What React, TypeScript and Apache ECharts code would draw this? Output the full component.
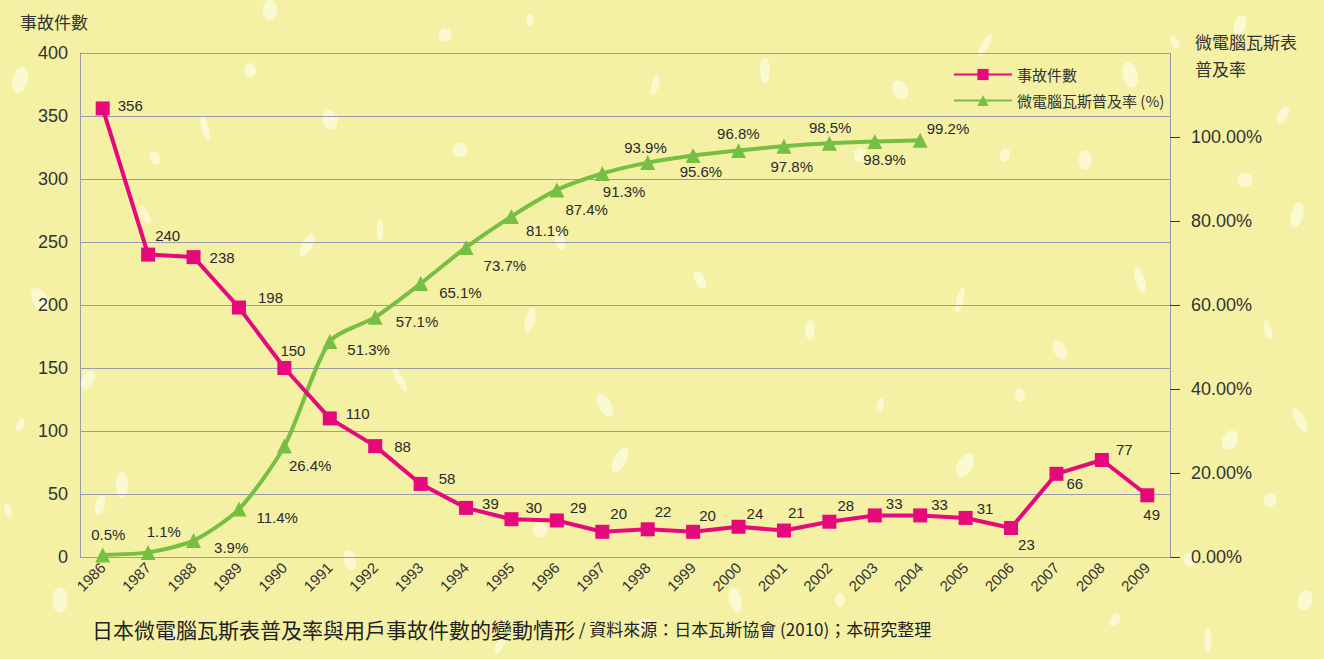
import React, { useEffect, useRef } from "react";
import * as echarts from "echarts";

const years = ["1986","1987","1988","1989","1990","1991","1992","1993","1994","1995","1996","1997","1998","1999","2000","2001","2002","2003","2004","2005","2006","2007","2008","2009"];
const accidents = [356,240,238,198,150,110,88,58,39,30,29,20,22,20,24,21,28,33,33,31,23,66,77,49];
const penetration = [0.5,1.1,3.9,11.4,26.4,51.3,57.1,65.1,73.7,81.1,87.4,91.3,93.9,95.6,96.8,97.8,98.5,98.9,99.2];
const leftTicks = [0,50,100,150,200,250,300,350,400];
const rightTicks = [0,20,40,60,80,100];

// label offsets (style only)
const pinkOffsets = [[3,-3],[-5,-19],[4,0],[7,-10],[-16,-18],[4,-5],[7,0],[6,-5],[4,-4],[2,-12],[1,-13],[-4,-18],[-5,-18],[-6,-16],[-4,-13],[-8,-18],[-4,-16],[-1,-12],[-1,-11],[-1,-9],[-5,16],[-2,10],[2,-10],[-16,19]];
const greenOffsets = [[-24,-20],[-14,-21],[8,7],[5,8],[-8,19],[5,8],[8,4],[6,9],[5,18],[2,14],[-4,20],[-12,18],[-36,-15],[-26,16],[-34,-17],[-26,20],[-33,-16],[-24,18],[-6,-12]];

const speckles = [[20,425],[100,505],[122,485],[170,635],[145,215],[307,245],[250,70],[270,10],[205,128],[155,158],[88,380],[20,80],[530,20],[560,240],[605,405],[540,530],[655,85],[765,70],[860,155],[900,90],[985,45],[1005,155],[1085,160],[1130,75],[1175,42],[1283,115],[1297,215],[1245,180],[1268,330],[1300,420],[1270,500],[1305,600],[1208,640],[1020,395],[1060,350],[965,465],[880,405],[810,330],[735,600],[645,625],[500,645],[530,320],[445,35],[330,120],[400,380],[1115,620],[1240,25],[60,600],[8,510],[700,280],[620,460],[460,150],[380,230],[1140,280],[1190,560],[1230,440],[960,300],[840,600],[350,560],[40,300]];

const FONT = "'Liberation Sans', 'Noto Sans CJK TC', sans-serif";
const CJK = "'Noto Sans CJK TC', sans-serif";

export default function App() {
  const ref = useRef<HTMLDivElement>(null);
  useEffect(() => {
    document.body.style.margin = "0";
    const chart = echarts.init(ref.current!, null, { renderer: "svg" });
    const speckleEls = speckles.map((p, i) => ({
      type: "ellipse",
      z: -10,
      silent: true,
      x: p[0],
      y: p[1],
      rotation: ((i % 5) - 2) * 0.25,
      shape: { cx: 0, cy: 0, rx: 3.5 + (i % 4) * 1.3, ry: 7 + (i % 3) * 3 },
      style: { fill: "rgba(255,255,240,0.6)" },
    }));
    chart.setOption({
      animation: false,
      backgroundColor: "#f4f1a4",
      textStyle: { fontFamily: FONT },
      grid: { left: 80, right: 154, top: 53, bottom: 102 },
      legend: {
        orient: "vertical",
        left: 948,
        top: 62,
        itemWidth: 58,
        itemHeight: 14,
        itemGap: 11,
        textStyle: { fontSize: 15, color: "#333", fontFamily: CJK },
        data: ["事故件數", "微電腦瓦斯普及率 (%)"],
      },
      xAxis: {
        type: "category",
        data: years,
        boundaryGap: true,
        axisLine: { lineStyle: { color: "#9a9aae", width: 1 } },
        axisTick: { show: false },
        axisLabel: { rotate: 45, fontSize: 15, color: "#333", margin: 8, interval: 0 },
      },
      yAxis: [
        {
          type: "value",
          min: 0,
          max: 400,
          interval: 50,
          axisLine: { show: true, lineStyle: { color: "#9a9aae" } },
          axisTick: { show: false },
          axisLabel: { fontSize: 18, color: "#333", margin: 12, customValues: leftTicks },
          splitLine: { lineStyle: { color: "#9a9aae", width: 1 } },
        },
        {
          type: "value",
          min: 0,
          max: 120,
          interval: 20,
          position: "right",
          axisLine: { show: true, lineStyle: { color: "#9a9aae" } },
          axisTick: { show: true, length: 10, inside: false, lineStyle: { color: "#333" }, customValues: rightTicks },
          axisLabel: {
            fontSize: 18,
            color: "#333",
            margin: 21,
            customValues: rightTicks,
            formatter: (v: number) => v.toFixed(2) + "%",
          },
          splitLine: { show: false },
        },
      ],
      series: [
        {
          name: "事故件數",
          type: "line",
          yAxisIndex: 0,
          symbol: "rect",
          symbolSize: 14,
          itemStyle: { color: "#e6097c" },
          lineStyle: { color: "#e6097c", width: 4 },
          z: 3,
          data: accidents.map((v, i) => ({
            value: v,
            label: {
              show: true,
              position: "right",
              distance: 5,
              offset: pinkOffsets[i],
              fontSize: 15,
              color: "#2a2a2a",
            },
          })),
        },
        {
          name: "微電腦瓦斯普及率 (%)",
          type: "line",
          yAxisIndex: 1,
          symbol: "triangle",
          symbolSize: 15,
          smooth: 0.25,
          itemStyle: { color: "#76bf43" },
          lineStyle: { color: "#76bf43", width: 4 },
          z: 2,
          data: penetration.map((v, i) => ({
            value: v,
            label: {
              show: true,
              position: "right",
              distance: 5,
              offset: greenOffsets[i],
              fontSize: 15,
              color: "#2a2a2a",
              formatter: (p: any) => p.value + "%",
            },
          })),
        },
      ],
      graphic: [
        ...speckleEls,
        {
          type: "text",
          left: 20,
          top: 13,
          style: { text: "事故件數", fontSize: 17, fill: "#333", fontFamily: CJK },
        },
        {
          type: "text",
          left: 1195,
          top: 28,
          style: { text: "微電腦瓦斯表\n普及率", fontSize: 17, lineHeight: 27, fill: "#333", fontFamily: CJK },
        },
        {
          type: "text",
          left: 92,
          top: 618,
          style: {
            text: "{a|日本微電腦瓦斯表普及率與用戶事故件數的變動情形}{b| / 資料來源：日本瓦斯協會 (2010)；本研究整理}",
            rich: {
              a: { fontSize: 21, fill: "#222", fontFamily: CJK },
              b: { fontSize: 17, fill: "#222", fontFamily: CJK },
            },
          },
        },
      ],
    });
    return () => chart.dispose();
  }, []);
  return <div ref={ref} style={{ width: 1324, height: 659 }} />;
}
